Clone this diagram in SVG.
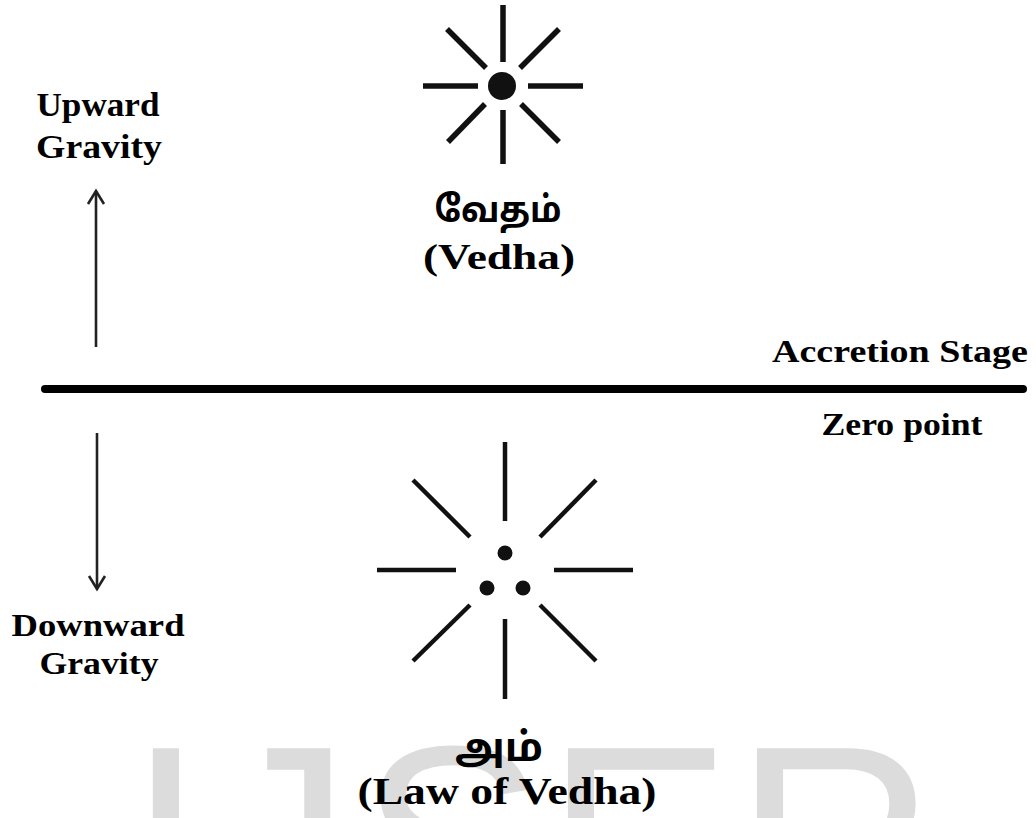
<svg xmlns="http://www.w3.org/2000/svg" width="1036" height="818" viewBox="0 0 1036 818">
<style>
.lbl{font-family:"Liberation Serif","Times New Roman",serif;font-weight:bold;fill:#000;text-anchor:middle}
.ta{font-family:"Noto Sans Tamil","Latha","Lohit Tamil","Noto Sans",sans-serif;font-weight:bold;fill:#000;text-anchor:middle}
.ray{stroke:#111;stroke-linecap:butt;fill:none}
.conn{stroke:#222;stroke-width:2.6;fill:none}
.wm{font-family:"Liberation Sans",Arial,sans-serif;fill:#dcdcdc;font-size:280px}
</style>
<defs>
<marker id="ah" markerUnits="userSpaceOnUse" markerWidth="20" markerHeight="20" viewBox="-16 -10 20 20" refX="0" refY="0" orient="auto">
<path d="M-13,-8 L0,0 L-13,8" fill="none" stroke="#222" stroke-width="2.6"/>
</marker>
</defs>
<rect width="1036" height="818" fill="#fff"/>
<text class="wm" x="127 211 359 545 734" y="941">IJSER</text>

<g id="vedha">
<g class="ray" stroke-width="5.5">
<line x1="503" y1="5" x2="503" y2="62"/>
<line x1="503" y1="110" x2="503" y2="164"/>
<line x1="423" y1="86" x2="478" y2="86"/>
<line x1="528" y1="86" x2="583" y2="86"/>
<line x1="447" y1="29" x2="486" y2="68"/>
<line x1="559" y1="29" x2="520" y2="68"/>
<line x1="485" y1="104" x2="448" y2="142"/>
<line x1="521" y1="104" x2="559" y2="142"/>
</g>
<circle cx="502" cy="86" r="14" fill="#111"/>
<text class="ta" x="498" y="222" font-size="36" textLength="127" lengthAdjust="spacingAndGlyphs">வேதம்</text>
<text class="lbl" x="499" y="269" font-size="36" textLength="152" lengthAdjust="spacingAndGlyphs">(Vedha)</text>
</g>

<g id="law-of-vedha">
<g class="ray" stroke-width="4.5">
<line x1="505" y1="442" x2="505" y2="521"/>
<line x1="505" y1="619" x2="505" y2="699"/>
<line x1="377" y1="570" x2="456" y2="570"/>
<line x1="554" y1="570" x2="633" y2="570"/>
<line x1="413" y1="480" x2="470" y2="537"/>
<line x1="596" y1="480" x2="540" y2="537"/>
<line x1="470" y1="605" x2="413" y2="661"/>
<line x1="540" y1="605" x2="596" y2="661"/>
</g>
<circle cx="505" cy="553" r="7.5" fill="#111"/>
<circle cx="487" cy="588" r="7.5" fill="#111"/>
<circle cx="523" cy="588" r="7.5" fill="#111"/>
<text class="ta" x="499" y="761" font-size="40" textLength="88" lengthAdjust="spacingAndGlyphs">அம்</text>
<text class="lbl" x="507" y="804" font-size="38" textLength="299" lengthAdjust="spacingAndGlyphs">(Law of Vedha)</text>
</g>

<g id="zero-line">
<line x1="45" y1="389" x2="1023" y2="389" stroke="#000" stroke-width="8" stroke-linecap="round"/>
<text class="lbl" x="900" y="362" font-size="32" textLength="256" lengthAdjust="spacingAndGlyphs">Accretion Stage</text>
<text class="lbl" x="902" y="435" font-size="32" textLength="161" lengthAdjust="spacingAndGlyphs">Zero point</text>
</g>

<g id="upward-gravity">
<text class="lbl" x="98" y="116" font-size="33" textLength="123" lengthAdjust="spacingAndGlyphs">Upward</text>
<text class="lbl" x="99" y="158" font-size="33" textLength="126" lengthAdjust="spacingAndGlyphs">Gravity</text>
</g>

<g id="downward-gravity">
<text class="lbl" x="98" y="636" font-size="32" textLength="173" lengthAdjust="spacingAndGlyphs">Downward</text>
<text class="lbl" x="99" y="674" font-size="32" textLength="119" lengthAdjust="spacingAndGlyphs">Gravity</text>
</g>

<g id="connectors">
<line class="conn" x1="96" y1="347" x2="96" y2="191" marker-end="url(#ah)"/>
<line class="conn" x1="97" y1="433" x2="97" y2="589" marker-end="url(#ah)"/>
</g>
</svg>
